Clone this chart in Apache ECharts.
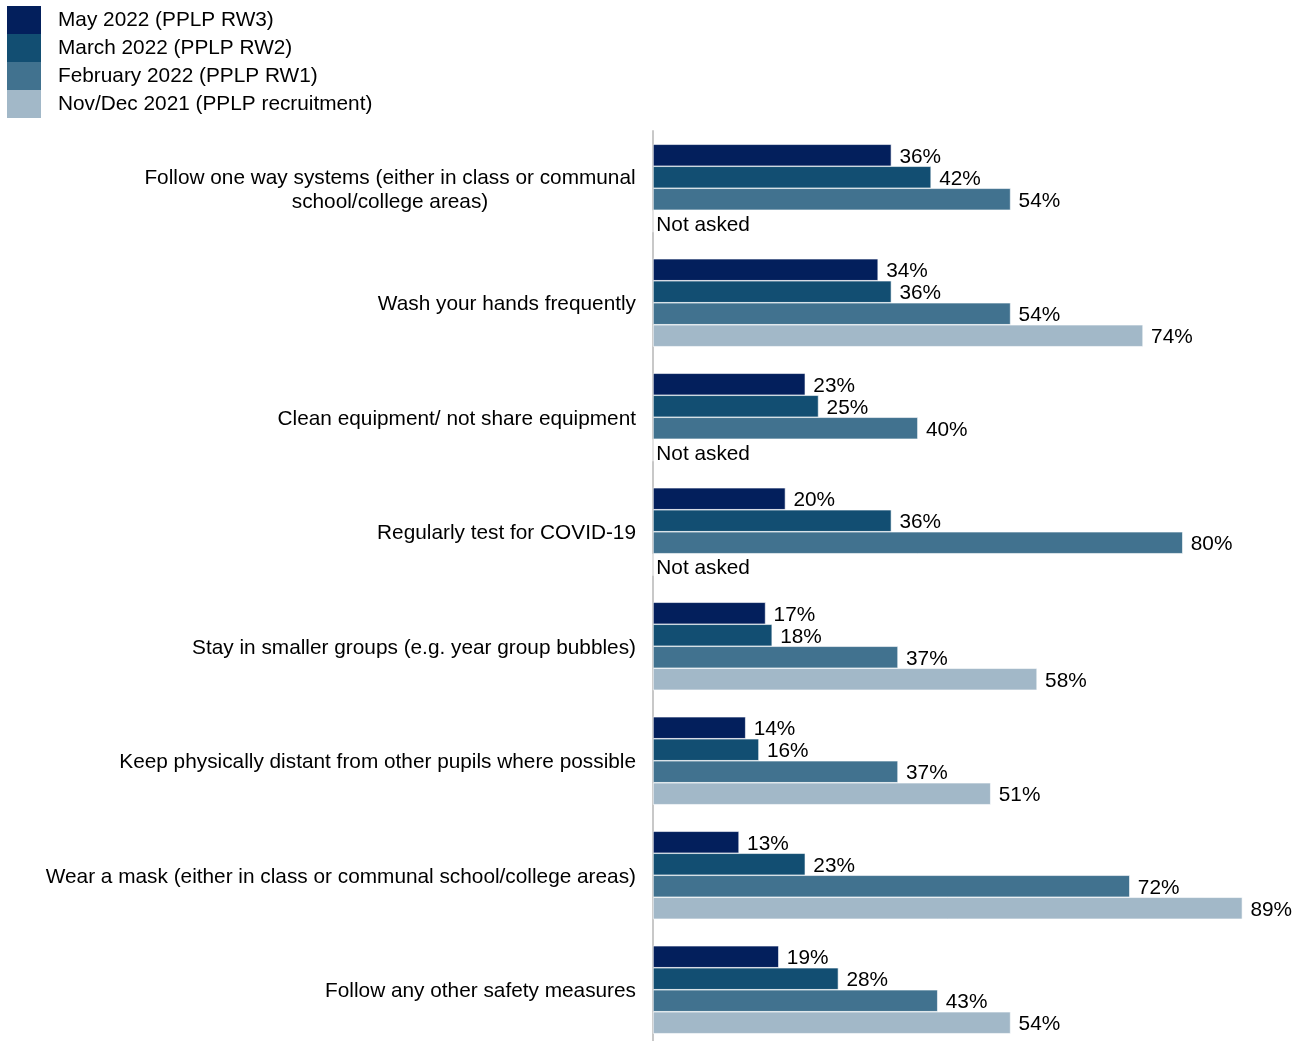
<!DOCTYPE html>
<html><head><meta charset="utf-8">
<script src="https://cdn.jsdelivr.net/npm/echarts@6/dist/echarts.min.js"></script>
<style>html,body{margin:0;padding:0;background:#fff;overflow:hidden}#c{width:1304px;height:1047px}</style>
</head><body><div id="c"></div>
<script>
const categories = [
  "Follow one way systems (either in class or communal\nschool/college areas)",
  "Wash your hands frequently",
  "Clean equipment/ not share equipment",
  "Regularly test for COVID-19",
  "Stay in smaller groups (e.g. year group bubbles)",
  "Keep physically distant from other pupils where possible",
  "Wear a mask (either in class or communal school/college areas)",
  "Follow any other safety measures"
];
const seriesNames = ["May 2022 (PPLP RW3)", "March 2022 (PPLP RW2)", "February 2022 (PPLP RW1)", "Nov/Dec 2021 (PPLP recruitment)"];
const may2022 = [36, 34, 23, 20, 17, 14, 13, 19];
const mar2022 = [42, 36, 25, 36, 18, 16, 23, 28];
const feb2022 = [54, 54, 40, 80, 37, 37, 72, 43];
const novDec2021 = [null, 74, null, null, 58, 51, 89, 54];
const notAskedText = "Not asked";
const colors = ["#031f5c", "#124e72", "#41728f", "#a2b8c8"];

const font = "Arial, 'Liberation Sans', sans-serif";
const FS = 20.8;
const ctx = document.createElement("canvas").getContext("2d");
ctx.font = FS + "px " + font;
function lineW(s) { return Math.ceil(ctx.measureText(s).width); }

function mk(name, vals, color) {
  return {
    name, type: "bar", barWidth: 22, barGap: "0%",
    itemStyle: { color, borderColor: "#ffffff", borderWidth: 0.6 },
    label: {
      show: true, position: "right", distance: 8, color: "#000", fontSize: FS, fontFamily: font,
      offset: [0, 2],
      formatter: p => (p.data && p.data.notAsked) ? notAskedText : p.value + "%"
    },
    data: vals.map(v => v === null ? { value: 0, notAsked: true, label: { distance: 3, offset: [0, 4] } } : v)
  };
}
const chart = echarts.init(document.getElementById("c"));
chart.setOption({
  animation: false,
  color: colors,
  legend: {
    orient: "vertical", left: 7, top: 6, padding: 0, itemWidth: 34, itemHeight: 28, itemGap: 0,
    icon: "rect", itemStyle: { borderWidth: 0 },
    textStyle: { fontSize: FS, fontFamily: font, color: "#000", lineHeight: 28, padding: [0, 0, 0, 12] },
    data: seriesNames
  },
  grid: { left: 653, top: 131, right: 2, bottom: 0, containLabel: false },
  xAxis: { type: "value", min: 0, max: 98, show: false },
  yAxis: {
    type: "category", inverse: true, data: categories,
    axisLine: { show: true, lineStyle: { color: "#c8c8c8", width: 2 } },
    axisTick: { show: false },
    axisLabel: {
      fontSize: FS, fontFamily: font, color: "#000", margin: 17, lineHeight: 24, align: "right",
      padding: [4, 0, 0, 0],
      formatter: v => {
        if (v.indexOf("\n") < 0) return v;
        return v.split("\n").map(p => "{c|" + p + "}").join("\n");
      },
      rich: {
        c: { fontSize: FS, fontFamily: font, color: "#000", lineHeight: 24, align: "center",
             width: lineW(categories[0].split("\n")[0]) }
      }
    }
  },
  series: [
    mk(seriesNames[0], may2022, colors[0]),
    mk(seriesNames[1], mar2022, colors[1]),
    mk(seriesNames[2], feb2022, colors[2]),
    mk(seriesNames[3], novDec2021, colors[3])
  ]
});
</script></body></html>
